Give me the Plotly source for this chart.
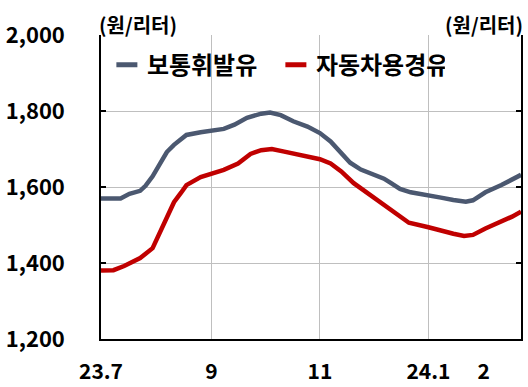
import plotly.graph_objects as go

# 보통휘발유 (regular gasoline), 원/리터
gas_dates = ["2023-07-01", "2023-07-12", "2023-07-17", "2023-07-23", "2023-07-26", "2023-07-30",
             "2023-08-04", "2023-08-07", "2023-08-11", "2023-08-15", "2023-08-18", "2023-08-26",
             "2023-09-01", "2023-09-08", "2023-09-14", "2023-09-21", "2023-09-29", "2023-10-04",
             "2023-10-10", "2023-10-17", "2023-10-25", "2023-11-01", "2023-11-07", "2023-11-13",
             "2023-11-18", "2023-11-24", "2023-12-01", "2023-12-07", "2023-12-11", "2023-12-16",
             "2023-12-22", "2024-01-01", "2024-01-08", "2024-01-15", "2024-01-22", "2024-01-26",
             "2024-02-02", "2024-02-11", "2024-02-17", "2024-02-22"]
gas_values = [1570, 1570, 1582, 1590, 1603, 1628,
              1668, 1692, 1711, 1727, 1737, 1744,
              1747, 1753, 1764, 1782, 1793, 1796,
              1789, 1773, 1759, 1742, 1720, 1689,
              1664, 1646, 1632, 1622, 1610, 1595,
              1586, 1579, 1572, 1566, 1561, 1565,
              1586, 1605, 1618, 1632]

# 자동차용경유 (automotive diesel), 원/리터
diesel_dates = ["2023-07-01", "2023-07-08", "2023-07-14", "2023-07-23", "2023-07-30", "2023-08-03",
                "2023-08-07", "2023-08-11", "2023-08-15", "2023-08-18", "2023-08-26", "2023-09-01",
                "2023-09-08", "2023-09-16", "2023-09-23", "2023-09-29", "2023-10-05", "2023-10-12",
                "2023-10-19", "2023-10-27", "2023-11-01", "2023-11-07", "2023-11-13", "2023-11-20",
                "2023-11-28", "2023-12-05", "2023-12-13", "2023-12-21", "2024-01-01", "2024-01-08",
                "2024-01-15", "2024-01-21", "2024-01-26", "2024-02-02", "2024-02-11", "2024-02-17",
                "2024-02-22"]
diesel_values = [1380, 1381, 1392, 1413, 1439, 1478,
                 1520, 1560, 1585, 1605, 1626, 1634,
                 1645, 1662, 1687, 1697, 1700, 1693,
                 1686, 1680, 1673, 1662, 1641, 1610,
                 1583, 1561, 1531, 1506, 1494, 1484,
                 1477, 1471, 1474, 1491, 1509, 1522,
                 1535]

x_tick_vals = ["2023-07-01", "2023-09-01", "2023-11-01", "2024-01-01", "2024-02-01"]
x_tick_text = ["23.7", "9", "11", "24.1", "2"]
x_grid_vals = ["2023-09-01", "2023-11-01", "2024-01-01"]
y_tick_vals = [1200, 1400, 1600, 1800, 2000]
x_range = ["2023-07-01", "2024-02-22"]
y_range = [1200, 2000]

series_names = ["보통휘발유", "자동차용경유"]
unit_label = "(원/리터)"

FONT = "Noto Sans CJK KR"
GRAY = "#4B5870"
RED = "#C00000"
colors = [GRAY, RED]

fig = go.Figure()
fig.add_trace(go.Scatter(x=gas_dates, y=gas_values, mode="lines", name=series_names[0],
                         showlegend=False, line=dict(color=GRAY, width=4.5)))
fig.add_trace(go.Scatter(x=diesel_dates, y=diesel_values, mode="lines", name=series_names[1],
                         showlegend=False, line=dict(color=RED, width=4.5)))
# legend entries with a short thick dash
for name, col in zip(series_names, colors):
    fig.add_trace(go.Scatter(x=[None], y=[None], mode="markers", name=name, showlegend=True,
                             marker=dict(symbol="line-ew-open", size=15, color=col,
                                         line=dict(color=col, width=5))))

fig.update_layout(
    width=528, height=387,
    margin=dict(l=101, r=7, t=35, b=48),
    plot_bgcolor="white", paper_bgcolor="white",
    font=dict(family=FONT, size=21, color="black"),
    showlegend=True,
    legend=dict(orientation="h", x=0.014, y=0.975, xanchor="left", yanchor="top",
                bgcolor="rgba(0,0,0,0)", font=dict(family=FONT, size=24, color="black", weight="bold"),
                itemwidth=30, entrywidth=124, entrywidthmode="pixels"),
    xaxis=dict(type="date", range=x_range, tickmode="array", tickvals=x_tick_vals,
               ticktext=x_tick_text, showgrid=False, ticks="", showline=True,
               linecolor="black", linewidth=1.5, mirror=False, zeroline=False,
               automargin=False,
               tickfont=dict(family=FONT, size=21, color="black", weight="bold"),
               ticklabelstandoff=13,
               minor=dict(tickmode="array", tickvals=x_grid_vals, showgrid=True,
                          gridcolor="#BFBFBF", gridwidth=1, ticks="")),
    yaxis=dict(range=y_range, tickmode="array", tickvals=y_tick_vals, tickformat=",d",
               showgrid=True, gridcolor="#BFBFBF", gridwidth=1, ticks="inside", ticklen=5,
               tickcolor="black", tickwidth=1.5, showline=True, linecolor="black",
               linewidth=1.5, mirror="ticks", zeroline=False, automargin=False,
               tickfont=dict(family=FONT, size=22, color="black", weight="bold"),
               ticklabelstandoff=30),
    annotations=[
        dict(text=unit_label, xref="paper", yref="paper", x=-0.01, y=1.0, xanchor="left",
             yanchor="bottom", showarrow=False, yshift=-6,
             font=dict(family=FONT, size=20, color="black", weight="bold")),
        dict(text=unit_label, xref="paper", yref="paper", x=1.01, y=1.0, xanchor="right",
             yanchor="bottom", showarrow=False, yshift=-6,
             font=dict(family=FONT, size=20, color="black", weight="bold")),
    ],
)

fig.write_html("out.html", config={"displayModeBar": False},
               post_script="document.body.style.margin='0px';")
